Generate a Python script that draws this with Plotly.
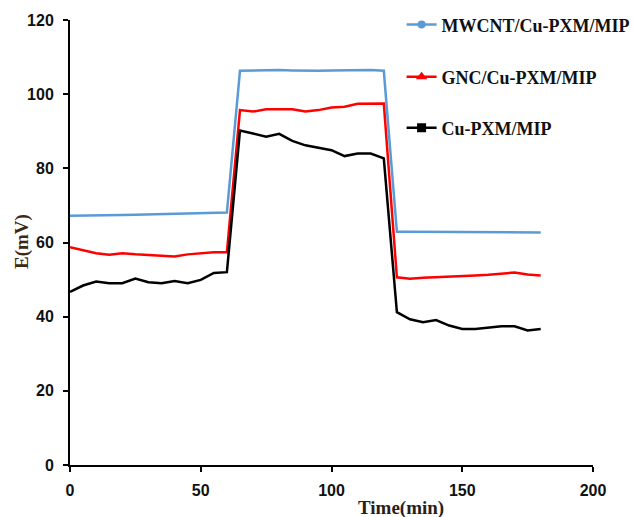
import plotly.graph_objects as go

# Sampling times (min)
time_min = list(range(0, 185, 5))

# Potential responses (mV)
mwcnt_cu_pxm_mip = [
    67.2, 67.2, 67.2, 67.4, 67.4, 67.5, 67.6, 67.7, 67.8, 67.9, 68.0, 68.0, 68.1,
    106.3, 106.4, 106.5, 106.5, 106.4, 106.3, 106.3, 106.4, 106.5, 106.4, 106.5, 106.3,
    62.9, 62.9, 62.9, 62.7, 62.7, 62.7, 62.7, 62.7, 62.7, 62.7, 62.7, 62.7,
]
gnc_cu_pxm_mip = [
    58.7, 58.0, 57.1, 56.7, 57.1, 56.8, 56.6, 56.3, 56.2, 56.8, 57.1, 57.4, 57.4,
    95.7, 95.3, 95.9, 95.9, 95.9, 95.3, 95.7, 96.4, 96.6, 97.4, 97.4, 97.5,
    50.6, 50.2, 50.5, 50.6, 50.8, 51.0, 51.1, 51.3, 51.5, 51.9, 51.4, 51.1,
]
cu_pxm_mip = [
    46.7, 48.4, 49.5, 49.0, 49.0, 50.3, 49.3, 49.0, 49.6, 49.0, 49.9, 51.8, 52.0,
    90.2, 89.4, 88.5, 89.3, 87.4, 86.2, 85.5, 84.9, 83.3, 84.0, 84.0, 82.7,
    41.2, 39.3, 38.5, 39.1, 37.6, 36.7, 36.7, 37.0, 37.4, 37.4, 36.3, 36.7,
]

series_names = ["MWCNT/Cu-PXM/MIP", "GNC/Cu-PXM/MIP", "Cu-PXM/MIP"]
series_values = [mwcnt_cu_pxm_mip, gnc_cu_pxm_mip, cu_pxm_mip]
series_colors = ["#5b9bd5", "#ff0000", "#000000"]
series_symbols = ["circle", "triangle-up", "square"]
series_marker_sizes = [8, 10, 9]
legend_ids = ["legend", "legend2", "legend3"]

fig = go.Figure()

for name, vals, color in zip(series_names, series_values, series_colors):
    fig.add_trace(go.Scatter(
        x=time_min, y=vals, mode="lines", name=name,
        line=dict(color=color, width=2.5), showlegend=False,
    ))

# Legend keys (line with marker), one legend box per series
for name, color, sym, msize, lid in zip(series_names, series_colors,
                                        series_symbols, series_marker_sizes, legend_ids):
    fig.add_trace(go.Scatter(
        x=[None], y=[None], mode="lines+markers", name=name,
        line=dict(color=color, width=2.5),
        marker=dict(color=color, symbol=sym, size=msize),
        legend=lid, showlegend=True,
    ))

legend_font = dict(family="Liberation Serif", size=18, color="#111111", weight="bold")
legend_y = [0.989, 0.872, 0.757]
legend_layout = {}
for lid, ly in zip(legend_ids, legend_y):
    legend_layout[lid] = dict(
        x=0.634, y=ly, xanchor="left", yanchor="middle",
        font=legend_font, bgcolor="rgba(0,0,0,0)", borderwidth=0,
    )

tick_font = dict(family="Liberation Sans", size=16, color="#111111", weight="bold")
fig.update_layout(
    width=633, height=517,
    margin=dict(l=70, r=40, t=20, b=52, autoexpand=False),
    paper_bgcolor="white", plot_bgcolor="white",
    xaxis=dict(
        range=[0, 200], tickvals=[0, 50, 100, 150, 200],
        showgrid=False, zeroline=False,
        showline=True, linecolor="black", linewidth=2,
        ticks="outside", ticklen=5, tickwidth=2, tickcolor="black",
        tickfont=tick_font, ticklabelstandoff=5,
    ),
    yaxis=dict(
        range=[0, 120], tickvals=[0, 20, 40, 60, 80, 100, 120],
        showgrid=False, zeroline=False,
        showline=True, linecolor="black", linewidth=2,
        ticks="outside", ticklen=5, tickwidth=2, tickcolor="black",
        tickfont=tick_font, ticklabelstandoff=6,
    ),
    annotations=[
        dict(text="Time(min)", xref="paper", yref="paper",
             x=(401 - 70) / 523, y=-(508 - 465) / 445,
             xanchor="center", yanchor="middle", showarrow=False,
             font=dict(family="Liberation Serif", size=19, color="#2a2018", weight="bold")),
        dict(text="E(mV)", xref="paper", yref="paper",
             x=-(70 - 22) / 523, y=(465 - 242) / 445,
             xanchor="center", yanchor="middle", showarrow=False, textangle=-90,
             font=dict(family="Liberation Serif", size=19, color="#3d2814", weight="bold")),
    ],
    **legend_layout,
)

fig.write_html("out.html")
